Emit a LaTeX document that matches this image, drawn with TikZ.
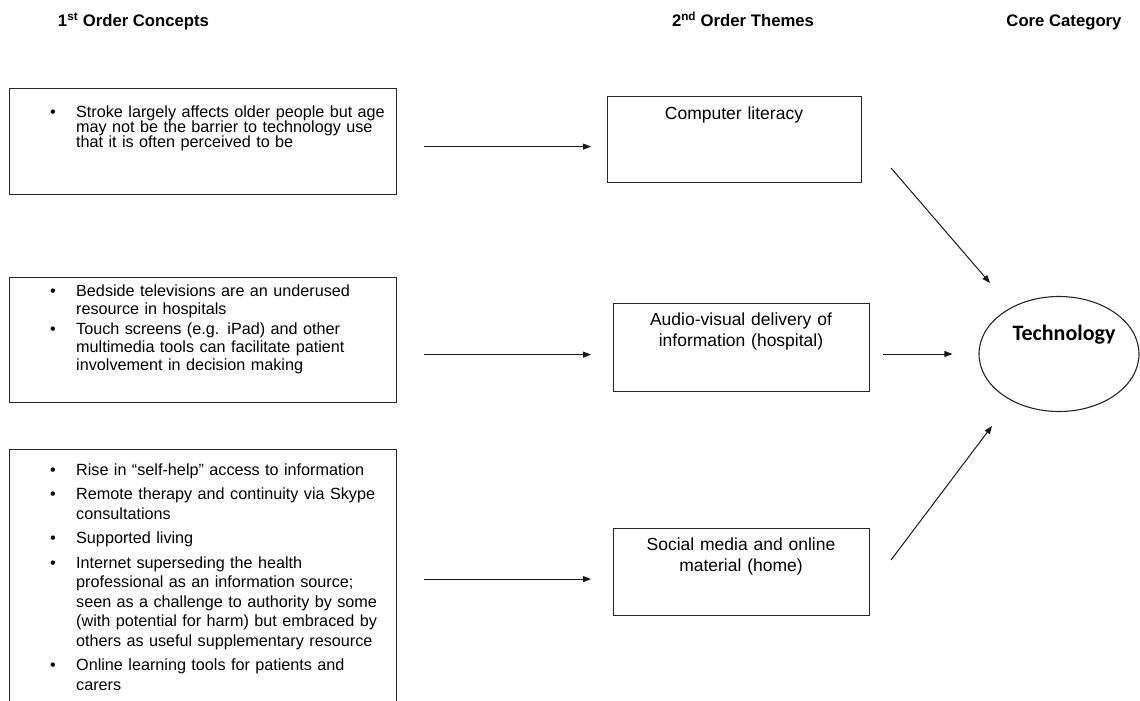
\documentclass[tikz,border=0pt]{standalone}
\usepackage{fontspec}
\setmainfont{Liberation Sans}
\newfontfamily\calfont{Carlito}
\usetikzlibrary{arrows.meta,shapes.geometric,calc}

% one bulleted entry with a hanging indent; lines are broken with \newline
\newcommand{\bulitem}[1]{\noindent\hangindent=26pt\hangafter=1\makebox[26pt][l]{\textbullet}#1\par}

\begin{document}
\begin{tikzpicture}[x=1pt,y=-1pt,
  hdr/.style={font=\fontsize{16.7}{20}\selectfont\bfseries, anchor=base, inner sep=0pt},
  cbox/.style={draw=black!85, line width=1.2pt, anchor=north west, inner sep=0pt},
  ctext/.style={anchor=base west, inner sep=0pt, text width=350pt, align=left},
  tbox/.style={draw=black!85, line width=1.2pt, anchor=north west, inner sep=0pt},
  ttext/.style={anchor=base, inner sep=0pt, align=center, text width=250pt,
    font=\fontsize{17.5}{21.5}\selectfont},
  arr/.style={draw=black!90, line width=1pt, -{Triangle[length=8pt,width=6pt]}}
]
\useasboundingbox (0,0) rectangle (1140,701);
\clip (0,0) rectangle (1140,701);

% column headings
\node[hdr] (h1) at (133.5,27) {1\textsuperscript{st} Order Concepts};
\node[hdr] (h2) at (743,27) {2\textsuperscript{nd} Order Themes};
\node[hdr] (h3) at (1064,27) {Core Category};

% first order concept boxes
\node[cbox, minimum width=387pt, minimum height=106pt] (c1) at (9,88) {};
\node[cbox, minimum width=387pt, minimum height=125pt] (c2) at (9,277) {};
\node[cbox, minimum width=387pt, minimum height=270pt] (c3) at (9,449) {};

\node[ctext, font=\fontsize{16.2}{15}\selectfont] (c1t) at (50,117.5) {%
  \lineskiplimit=-20pt
  \bulitem{Stroke largely affects older people but age\newline may not be the barrier to technology use\newline that it is often perceived to be}};

\node[ctext, font=\fontsize{16.2}{18}\selectfont] (c2t) at (50,296) {%
  \setlength{\parskip}{2.7pt}\lineskiplimit=-20pt
  \bulitem{Bedside televisions are an underused\newline resource in hospitals}
  \bulitem{Touch screens (e.g. iPad) and other\newline multimedia tools can facilitate patient\newline involvement in decision making}};

\node[ctext, font=\fontsize{16.2}{19.4}\selectfont] (c3t) at (50,475) {%
  \setlength{\parskip}{5.3pt}\lineskiplimit=-20pt
  \bulitem{Rise in “self-help” access to information}
  \bulitem{Remote therapy and continuity via Skype\newline consultations}
  \bulitem{Supported living}
  \bulitem{Internet superseding the health\newline professional as an information source;\newline seen as a challenge to authority by some\newline (with potential for harm) but embraced by\newline others as useful supplementary resource}
  \bulitem{Online learning tools for patients and\newline carers}};

% second order theme boxes
\node[tbox, minimum width=254pt, minimum height=86pt] (t1) at (607,96) {};
\node[tbox, minimum width=256pt, minimum height=88pt] (t2) at (613,303) {};
\node[tbox, minimum width=256pt, minimum height=87pt] (t3) at (613,528) {};

\node[ttext] (t1t) at (734,119) {Computer literacy};
\node[ttext] (t2t) at (741,325) {Audio-visual delivery of\\information (hospital)};
\node[ttext] (t3t) at (741,550) {Social media and online\\material (home)};

% core category
\node[draw=black!85, line width=1.1pt, ellipse, minimum width=160pt, minimum height=115pt, inner sep=0pt] (core) at (1059,354) {};
\node[anchor=base, inner sep=0pt, font=\calfont\fontsize{22}{25}\selectfont\bfseries] (coret) at (1064,340) {Technology};

% connectors from concepts to themes
\coordinate (a1) at ([yshift=-7pt]t1.west);
\coordinate (a2) at ([yshift=-7pt]t2.west);
\coordinate (a3) at ([yshift=-7pt]t3.west);
\draw[arr, shorten <=27pt, shorten >=16pt] (c1.east |- a1) -- (a1);
\draw[arr, shorten <=27pt, shorten >=22pt] (c2.east |- a2) -- (a2);
\draw[arr, shorten <=27pt, shorten >=22pt] (c3.east |- a3) -- (a3);

% connectors from themes to the core category
\coordinate (d1s) at (891,168);
\coordinate (d1e) at (990,283);
\coordinate (d3s) at (891,560);
\coordinate (d3e) at (992,426);
\draw[arr] (d1s) -- (d1e);
\draw[arr, shorten <=13pt, shorten >=26pt] (t2.east |- core.west) -- (core.west);
\draw[arr] (d3s) -- (d3e);
\end{tikzpicture}
\end{document}
